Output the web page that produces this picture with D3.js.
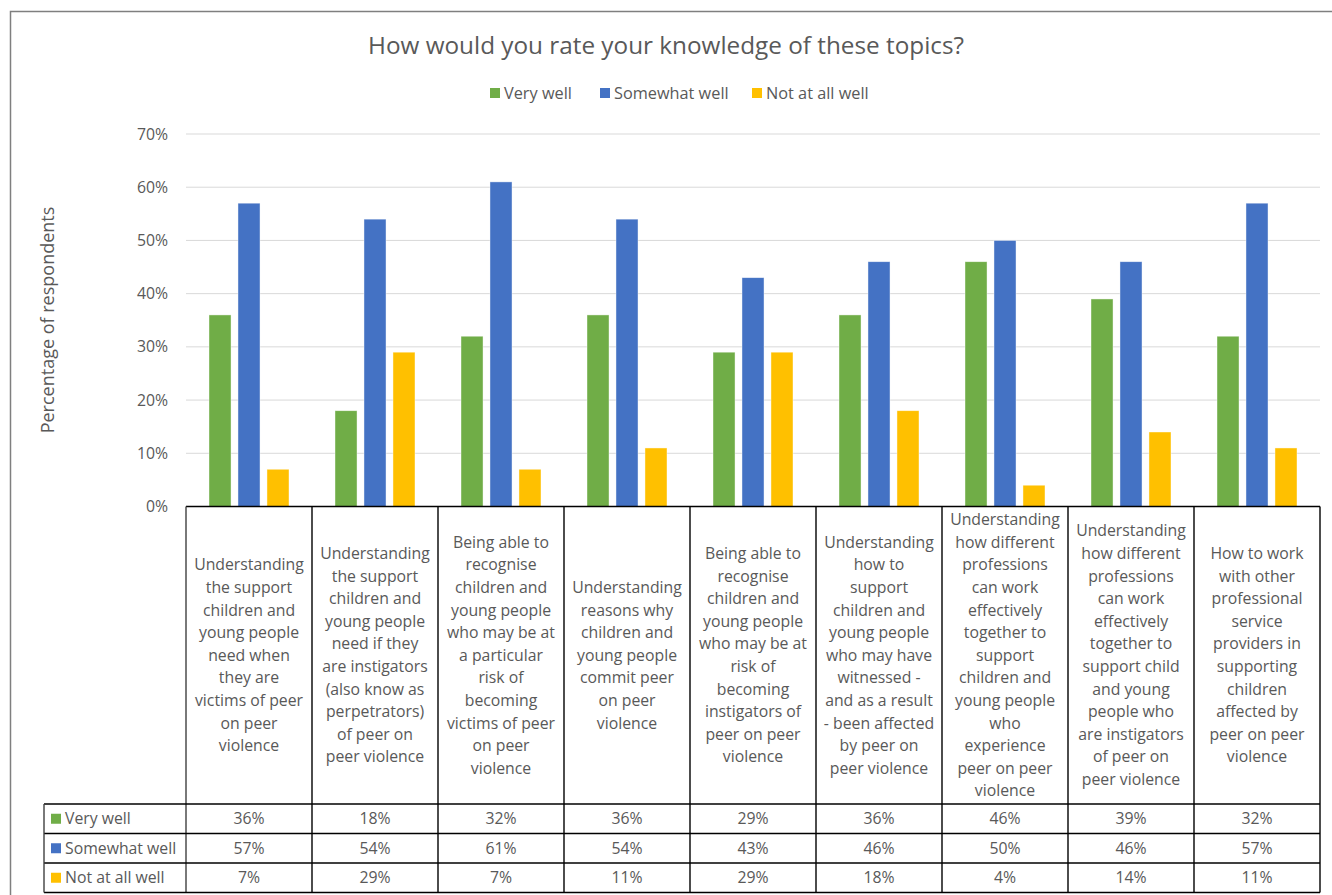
<!DOCTYPE html>
<html>
<head>
<meta charset="utf-8">
<script src="https://cdn.jsdelivr.net/npm/d3@7"></script>
<style>
  html, body { margin: 0; padding: 0; background: #fff; }
  svg { display: block; font-family: "Open Sans", "Noto Sans", sans-serif; }
</style>
</head>
<body>
<svg id="chart" width="1332" height="895"></svg>
<script>
// ---- data ----
const title = "How would you rate your knowledge of these topics?";
const yAxisTitle = "Percentage of respondents";
const seriesNames = ["Very well", "Somewhat well", "Not at all well"];
const seriesColors = ["#70ad47", "#4472c4", "#ffc000"];
const veryWell = [36, 18, 32, 36, 29, 36, 46, 39, 32];
const somewhatWell = [57, 54, 61, 54, 43, 46, 50, 46, 57];
const notAtAllWell = [7, 29, 7, 11, 29, 18, 4, 14, 11];
const yTicks = [0, 10, 20, 30, 40, 50, 60, 70];
const categories = [
  ["Understanding", "the support", "children and", "young people", "need when", "they are", "victims of peer", "on peer", "violence"],
  ["Understanding", "the support", "children and", "young people", "need if they", "are instigators", "(also know as", "perpetrators)", "of peer on", "peer violence"],
  ["Being able to", "recognise", "children and", "young people", "who may be at", "a particular", "risk of", "becoming", "victims of peer", "on peer", "violence"],
  ["Understanding", "reasons why", "children and", "young people", "commit peer", "on peer", "violence"],
  ["Being able to", "recognise", "children and", "young people", "who may be at", "risk of", "becoming", "instigators of", "peer on peer", "violence"],
  ["Understanding", "how to", "support", "children and", "young people", "who may have", "witnessed -", "and as a result", "- been affected", "by peer on", "peer violence"],
  ["Understanding", "how different", "professions", "can work", "effectively", "together to", "support", "children and", "young people", "who", "experience", "peer on peer", "violence"],
  ["Understanding", "how different", "professions", "can work", "effectively", "together to", "support child", "and young", "people who", "are instigators", "of peer on", "peer violence"],
  ["How to work", "with other", "professional", "service", "providers in", "supporting", "children", "affected by", "peer on peer", "violence"]
];

const series = [veryWell, somewhatWell, notAtAllWell];
const textColor = "#595959";
const fs = 15.8;

const svg = d3.select("#chart");

// outer border
svg.append("rect").attr("x", 10.5).attr("y", 11.5).attr("width", 1340).attr("height", 900)
  .attr("fill", "none").attr("stroke", "#7f7f7f").attr("stroke-width", 1.5);

// layout
const plotLeft = 186, plotRight = 1320, plotTop = 134, plotBottom = 506.5;
const labelBottom = 804, rowH = 29.5, tableLeft = 44;

const x = d3.scaleBand().domain(d3.range(categories.length)).range([plotLeft, plotRight]);
const y = d3.scaleLinear().domain([0, 70]).range([plotBottom, plotTop]);
const xs = d3.scaleBand().domain(d3.range(series.length)).range([0, 80]).paddingInner(0.24).paddingOuter(0);

// title
svg.append("text").attr("x", 666).attr("y", 54).attr("text-anchor", "middle")
  .attr("font-size", 24.3).attr("fill", textColor).text(title);

// legend
const legendItems = [{x: 490}, {x: 600}, {x: 752}];
seriesNames.forEach((n, i) => {
  const g = svg.append("g").attr("transform", `translate(${legendItems[i].x},88)`);
  g.append("rect").attr("width", 10).attr("height", 10).attr("fill", seriesColors[i]);
  g.append("text").attr("x", 14).attr("y", 10.5).attr("font-size", 16.3).attr("fill", textColor).text(n);
});

// gridlines
svg.append("g").selectAll("line").data(yTicks.filter(d => d > 0)).join("line")
  .attr("x1", plotLeft).attr("x2", plotRight)
  .attr("y1", d => y(d)).attr("y2", d => y(d))
  .attr("stroke", "#d9d9d9").attr("stroke-width", 1);

// y axis labels
svg.append("g").attr("transform", `translate(${plotLeft},0)`)
  .call(d3.axisLeft(y).tickValues(yTicks).tickFormat(d => d + "%").tickSize(0).tickPadding(18))
  .call(g => g.select(".domain").remove())
  .call(g => g.selectAll("text").attr("font-size", fs).attr("fill", textColor)
    .attr("font-family", "Open Sans, Noto Sans, sans-serif"));

// y axis title
svg.append("text").attr("transform", `translate(54,320) rotate(-90)`)
  .attr("text-anchor", "middle").attr("font-size", 18).attr("fill", textColor).text(yAxisTitle);

// bars
const groups = svg.append("g").selectAll("g").data(categories).join("g")
  .attr("transform", (d, i) => `translate(${x(i) + (x.bandwidth() - 80) / 2},0)`);
groups.selectAll("rect").data((d, i) => series.map((s, k) => ({k, v: s[i]}))).join("rect")
  .attr("x", d => xs(d.k)).attr("width", xs.bandwidth())
  .attr("y", d => y(d.v)).attr("height", d => y(0) - y(d.v))
  .attr("fill", d => seriesColors[d.k])
  .attr("stroke", "#ffffff").attr("stroke-opacity", 0.6).attr("stroke-width", 0.7);

// category labels
const lh = 22.6;
const labelMid = (plotBottom + labelBottom) / 2;
categories.forEach((lines, i) => {
  const t = svg.append("text").attr("text-anchor", "middle").attr("font-size", fs).attr("fill", textColor);
  const start = labelMid - (lines.length - 1) * lh / 2 + 5.5;
  lines.forEach((ln, j) => {
    t.append("tspan").attr("x", x(i) + x.bandwidth() / 2).attr("y", start + j * lh).text(ln);
  });
});

// table lines
const lines = svg.append("g").attr("stroke", "#000").attr("stroke-width", 1.4);
lines.append("line").attr("x1", plotLeft).attr("x2", plotRight).attr("y1", plotBottom).attr("y2", plotBottom);
d3.range(categories.length + 1).forEach(i => {
  const xx = i < categories.length ? x(i) : plotRight;
  lines.append("line").attr("x1", xx).attr("x2", xx).attr("y1", plotBottom).attr("y2", labelBottom + 3 * rowH)
    .attr("stroke", i === 0 ? "#404040" : "#000");
});
d3.range(4).forEach(r => {
  lines.append("line").attr("x1", tableLeft).attr("x2", plotRight)
    .attr("y1", labelBottom + r * rowH).attr("y2", labelBottom + r * rowH);
});
lines.append("line").attr("x1", tableLeft).attr("x2", tableLeft)
  .attr("y1", labelBottom).attr("y2", labelBottom + 3 * rowH).attr("stroke", "#404040");

// table row headers and values
series.forEach((s, k) => {
  const cy = labelBottom + k * rowH + rowH / 2;
  svg.append("rect").attr("x", 51).attr("y", cy - 5).attr("width", 10).attr("height", 10).attr("fill", seriesColors[k]);
  svg.append("text").attr("x", 65).attr("y", cy + 5.5).attr("font-size", fs).attr("fill", textColor).text(seriesNames[k]);
  svg.append("g").selectAll("text").data(s).join("text")
    .attr("x", (d, i) => x(i) + x.bandwidth() / 2).attr("y", cy + 5.5)
    .attr("text-anchor", "middle").attr("font-size", fs).attr("fill", textColor)
    .text(d => d + "%");
});
</script>
</body>
</html>
